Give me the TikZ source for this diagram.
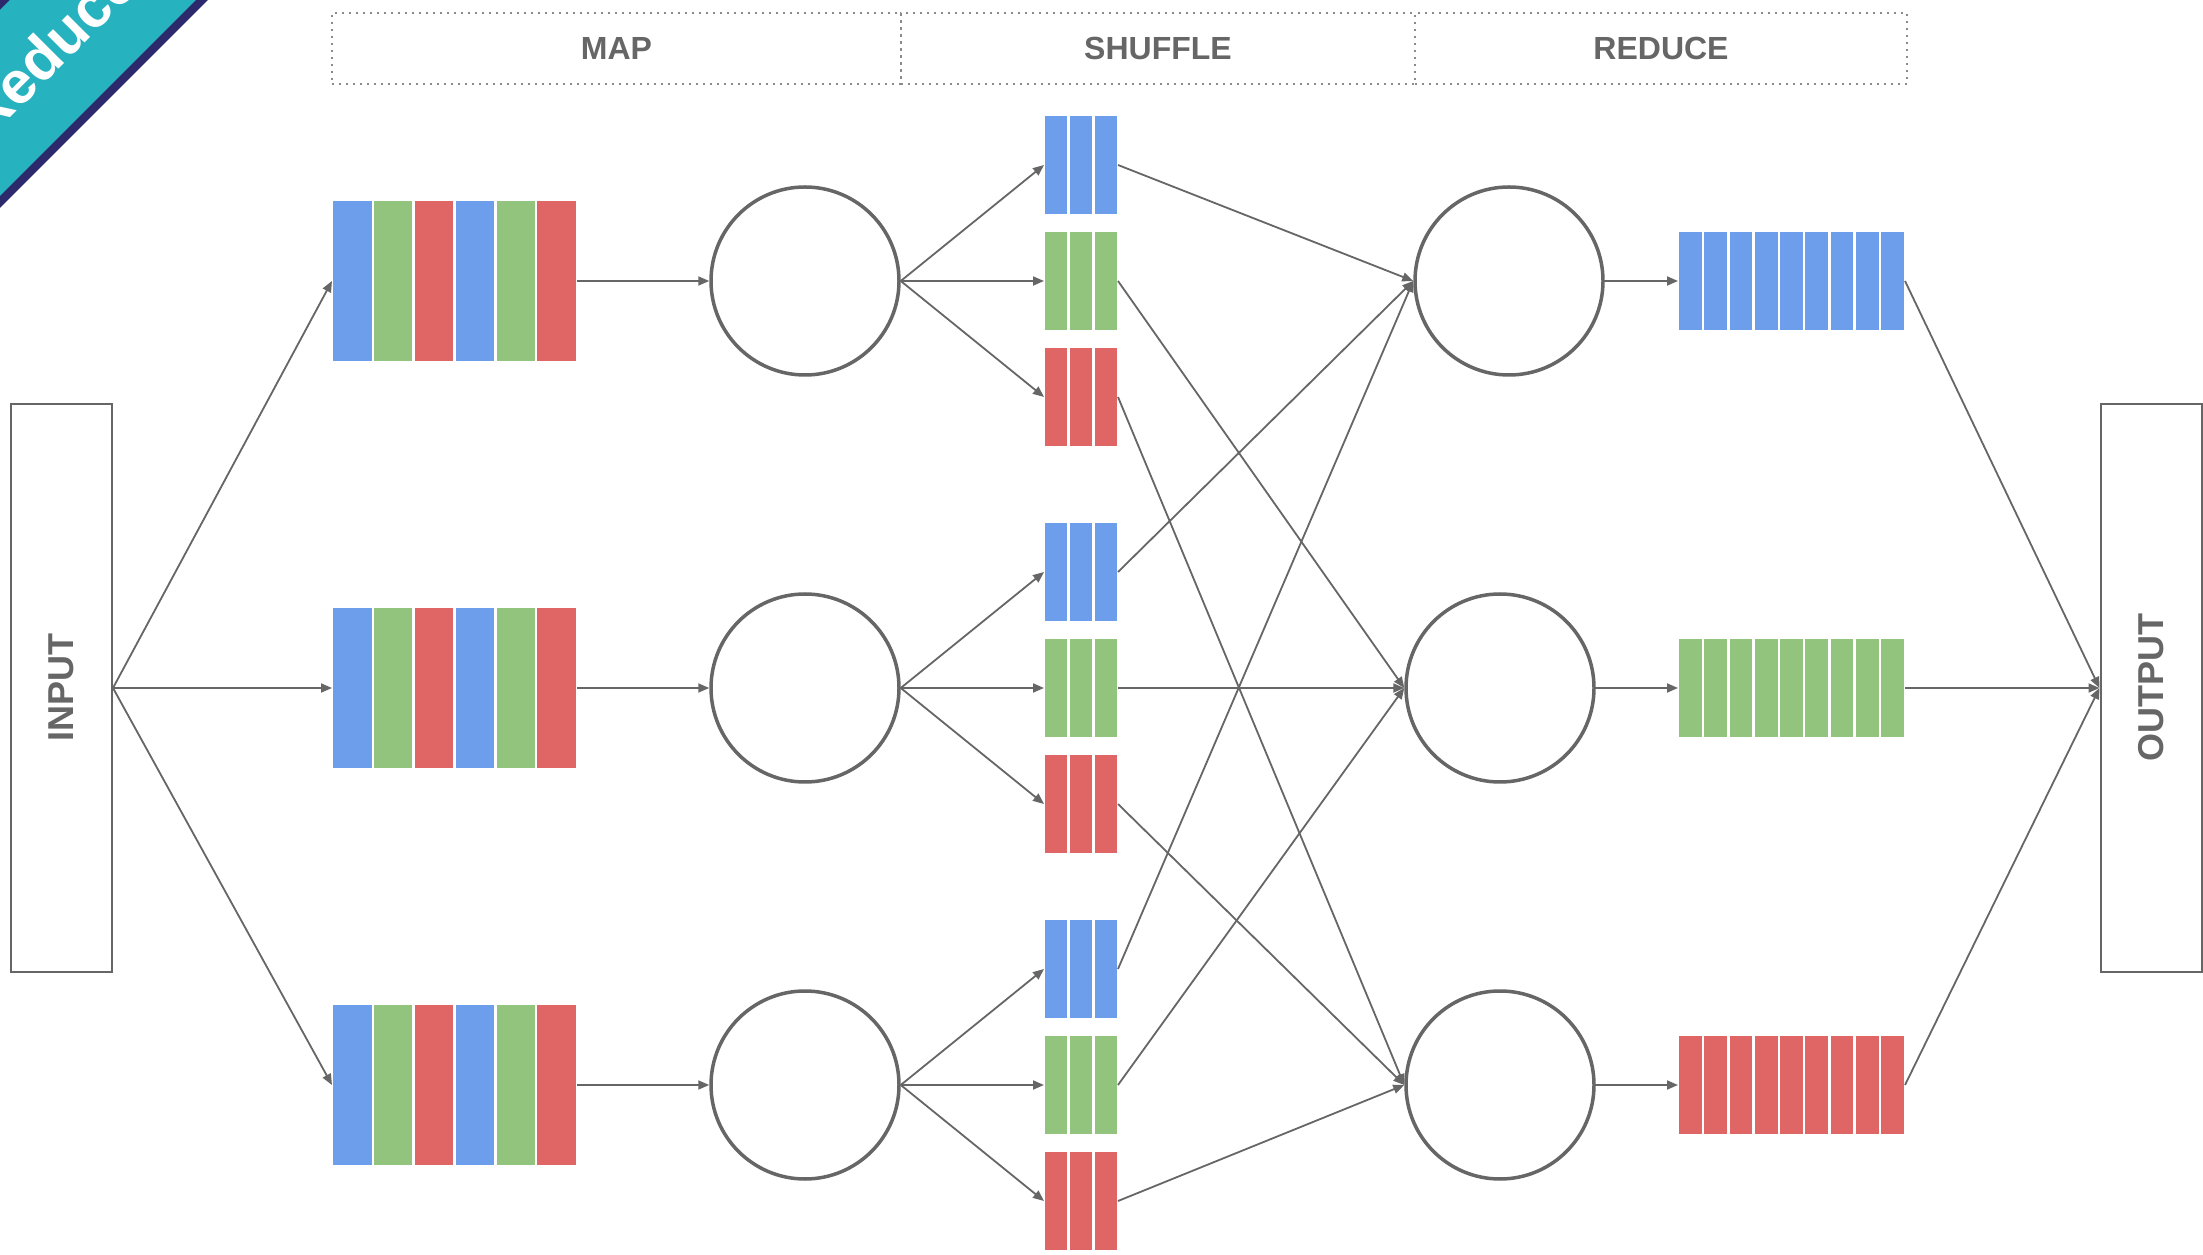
\documentclass[tikz,border=0pt]{standalone}
\usepackage{fontspec}
\setmainfont{Liberation Sans}
\definecolor{MapBlue}{HTML}{6D9EEB}
\definecolor{MapGreen}{HTML}{93C47D}
\definecolor{MapRed}{HTML}{E06666}
\definecolor{LineGray}{HTML}{666666}
\definecolor{FrameGray}{HTML}{8A8A8A}
\definecolor{RibbonTeal}{HTML}{26B2BF}
\definecolor{RibbonNavy}{HTML}{2C2A6C}
\usetikzlibrary{positioning,arrows.meta,calc}
% stripes inside a bar node: #1 = number of stripes, #2 = colours
\newcommand{\stripefill}[2]{%
  \coordinate (sw) at (path picture bounding box.south west);
  \coordinate (ne) at (path picture bounding box.north east);
  \foreach \c [count=\i from 0] in {#2}{%
    \filldraw[fill=\c, draw=white, line width=2.5pt]
      ($(sw)!{\i/#1}!(sw-|ne)$) rectangle ($(sw|-ne)!{(\i+1)/#1}!(ne)$);
  }}

\begin{document}
\begin{tikzpicture}[
      x=1pt, y=1pt,
      headcell/.style={draw=FrameGray, dash pattern=on 2pt off 5pt, line width=1.6pt, minimum height=71pt, inner sep=0pt, text=LineGray, font=\fontsize{32}{36}\selectfont\bfseries},
      iobox/.style={draw=LineGray, line width=2pt, fill=white, minimum width=101pt, minimum height=567pt, inner sep=0pt, text=LineGray, font=\fontsize{36}{40}\selectfont\bfseries},
      worker/.style={circle, draw=LineGray, line width=3.5pt, fill=white, minimum size=188pt, inner sep=0pt},
      bar/.style={rectangle, fill=white, inner sep=0pt, outer sep=0pt, minimum height=100pt},
      mapbar/.style={bar, minimum width=245pt, minimum height=163pt, path picture={\stripefill{6}{MapBlue,MapGreen,MapRed,MapBlue,MapGreen,MapRed}}},
      partbar/.style={bar, minimum width=74pt, path picture={\stripefill{3}{#1,#1,#1}}},
      resultbar/.style={bar, minimum width=227pt, path picture={\stripefill{9}{#1,#1,#1,#1,#1,#1,#1,#1,#1}}},
      ribbontext/.style={text=white, inner sep=0pt, rotate=45, font=\fontsize{60}{60}\selectfont\bfseries},
      arr/.style={-{Triangle[length=11pt,width=9pt]}, draw=LineGray, line width=1.8pt}
  ]
    \useasboundingbox (0,0) rectangle (2203,1254);
    \fill[white] (0,0) rectangle (2203,1254);

    % corner ribbon
    \begin{scope}
      \clip (0,0) rectangle (2203,1254);
      \fill[RibbonNavy] (0,1254) -- (208,1254) -- (0,1046) -- cycle;
      \fill[RibbonTeal] (10,1254) -- (196,1254) -- (0,1058) -- (0,1244) -- cycle;
      \node[ribbontext] (ribbon) at (49,1205) {Reduce};
    \end{scope}

    % phase header
    \node[headcell, minimum width=569pt] (hmap) at (616.5,1205.5) {MAP};
    \node[headcell, minimum width=514pt] (hshuffle) at (1158,1205.5) {SHUFFLE};
    \node[headcell, minimum width=492pt] (hreduce) at (1661,1205.5) {REDUCE};

    \node[iobox] (input) at (61.5,566) {\rotatebox{90}{INPUT}};
    \node[iobox] (output) at (2151,566) {\rotatebox{90}{OUTPUT}};

    % map side
    \node[mapbar] (map1) at (454.5,973) {};
    \node[mapbar] (map2) at (454.5,566) {};
    \node[mapbar] (map3) at (454.5,169) {};
    \node[worker] (mapper1) at (805,973) {};
    \node[worker] (mapper2) at (805,566) {};
    \node[worker] (mapper3) at (805,169) {};

    % shuffle partitions
    \node[partbar=MapGreen] (s1g) at (1081,973) {};
    \node[partbar=MapBlue, above=16pt of s1g] (s1b) {};
    \node[partbar=MapRed, below=16pt of s1g] (s1r) {};
    \node[partbar=MapGreen] (s2g) at (1081,566) {};
    \node[partbar=MapBlue, above=16pt of s2g] (s2b) {};
    \node[partbar=MapRed, below=16pt of s2g] (s2r) {};
    \node[partbar=MapGreen] (s3g) at (1081,169) {};
    \node[partbar=MapBlue, above=16pt of s3g] (s3b) {};
    \node[partbar=MapRed, below=16pt of s3g] (s3r) {};

    % reduce side
    \node[worker] (reducer1) at (1509,973) {};
    \node[worker] (reducer2) at (1500,566) {};
    \node[worker] (reducer3) at (1500,169) {};
    \node[resultbar=MapBlue] (out1) at (1791.5,973) {};
    \node[resultbar=MapGreen] (out2) at (1791.5,566) {};
    \node[resultbar=MapRed] (out3) at (1791.5,169) {};

    \draw[arr] (input.east) -- (map1.west);
    \draw[arr] (input.east) -- (map2.west);
    \draw[arr] (input.east) -- (map3.west);
    \draw[arr] (map1.east) -- (mapper1.west);
    \draw[arr] (map2.east) -- (mapper2.west);
    \draw[arr] (map3.east) -- (mapper3.west);

    \draw[arr] (mapper1.east) -- (s1b.west);
    \draw[arr] (mapper1.east) -- (s1g.west);
    \draw[arr] (mapper1.east) -- (s1r.west);
    \draw[arr] (mapper2.east) -- (s2b.west);
    \draw[arr] (mapper2.east) -- (s2g.west);
    \draw[arr] (mapper2.east) -- (s2r.west);
    \draw[arr] (mapper3.east) -- (s3b.west);
    \draw[arr] (mapper3.east) -- (s3g.west);
    \draw[arr] (mapper3.east) -- (s3r.west);

    \draw[arr] (s1b.east) -- (reducer1.west);
    \draw[arr] (s2b.east) -- (reducer1.west);
    \draw[arr] (s3b.east) -- (reducer1.west);
    \draw[arr] (s1g.east) -- (reducer2.west);
    \draw[arr] (s2g.east) -- (reducer2.west);
    \draw[arr] (s3g.east) -- (reducer2.west);
    \draw[arr] (s1r.east) -- (reducer3.west);
    \draw[arr] (s2r.east) -- (reducer3.west);
    \draw[arr] (s3r.east) -- (reducer3.west);

    \draw[arr] (reducer1.east) -- (out1.west);
    \draw[arr] (reducer2.east) -- (out2.west);
    \draw[arr] (reducer3.east) -- (out3.west);
    \draw[arr] (out1.east) -- (output.west);
    \draw[arr] (out2.east) -- (output.west);
    \draw[arr] (out3.east) -- (output.west);
  \end{tikzpicture}
\end{document}
